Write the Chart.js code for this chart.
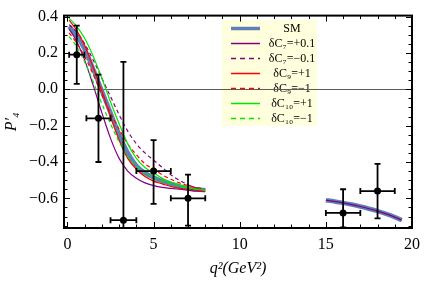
<!DOCTYPE html>
<html><head><meta charset="utf-8">
<script src="https://cdn.jsdelivr.net/npm/chart.js@4"></script>
<style>html,body{margin:0;padding:0;background:#fff}#wrap{width:427px;height:281px}</style>
</head><body><div id="wrap"><canvas id="c"></canvas></div>
<script>
// q^2 grid for the low-q theory curves
const qLow = [0.1,0.5,1,1.5,2,2.5,3,3.5,4,4.5,5,5.5,6,6.5,7,7.5,8];
const smLow    = [0.345,0.30,0.22,0.11,-0.01,-0.13,-0.25,-0.35,-0.42,-0.46,-0.485,-0.505,-0.52,-0.535,-0.545,-0.55,-0.555];
const c7pLow   = [0.33,0.27,0.16,0.02,-0.13,-0.27,-0.38,-0.45,-0.49,-0.515,-0.53,-0.54,-0.545,-0.55,-0.555,-0.56,-0.56];
const c7mLow   = [0.355,0.32,0.25,0.16,0.06,-0.04,-0.14,-0.23,-0.30,-0.35,-0.39,-0.43,-0.47,-0.50,-0.525,-0.545,-0.555];
const c9pLow   = [0.38,0.33,0.24,0.12,-0.01,-0.15,-0.28,-0.38,-0.44,-0.48,-0.505,-0.52,-0.535,-0.545,-0.55,-0.555,-0.56];
const c9mLow   = [0.31,0.26,0.18,0.08,-0.03,-0.13,-0.22,-0.30,-0.36,-0.41,-0.44,-0.47,-0.495,-0.515,-0.53,-0.54,-0.55];
const c10pLow  = [0.39,0.35,0.28,0.18,0.06,-0.07,-0.19,-0.30,-0.38,-0.43,-0.46,-0.49,-0.51,-0.525,-0.54,-0.55,-0.555];
const c10mLow  = [0.29,0.24,0.15,0.04,-0.08,-0.19,-0.29,-0.37,-0.42,-0.46,-0.485,-0.505,-0.52,-0.535,-0.545,-0.55,-0.555];
// high-q region
const qHigh  = [15,15.5,16,16.5,17,17.5,18,18.5,19,19.4];
const smHigh = [-0.61,-0.617,-0.625,-0.634,-0.645,-0.657,-0.67,-0.685,-0.703,-0.72];
// experimental points
const expX   = [0.54, 1.8, 3.25, 5.0, 7.0, 16.0, 18.0];
const expXlo = [0.1, 1.1, 2.5, 4.0, 6.0, 15.0, 17.0];
const expXhi = [0.98, 2.5, 4.0, 6.0, 8.0, 17.0, 19.0];
const expY   = [0.19, -0.16, -0.72, -0.45, -0.60, -0.68, -0.56];
const expYlo = [0.03, -0.40, -1.6, -0.63, -0.75, -0.76, -0.71];
const expYhi = [0.35, 0.08, 0.15, -0.28, -0.47, -0.55, -0.41];
// ticks
const xTicks = [0,5,10,15,20];
const yTicks = [-0.6,-0.4,-0.2,0.0,0.2,0.4];
const legendLabels = ['SM','δC₇=+0.1','δC₇=−0.1','δC₉=+1','δC₉=−1','δC₁₀=+1','δC₁₀=−1'];

const SERIF = '"Liberation Serif","DejaVu Serif",serif';
function pts(xs, ys){ return xs.map((x,i)=>({x:x,y:ys[i]})); }
function withHigh(low){ return pts(qLow, low).concat([{x:11,y:null}], pts(qHigh, smHigh)); }

const styles = [
  {c:'rgb(94,129,181)', w:4.5, d:[]},
  {c:'rgb(128,0,128)', w:1.2, d:[]},
  {c:'rgb(128,0,128)', w:1.2, d:[4,3]},
  {c:'rgb(255,0,0)', w:1.2, d:[]},
  {c:'rgb(255,0,0)', w:1.2, d:[4,3]},
  {c:'rgb(0,230,0)', w:1.2, d:[]},
  {c:'rgb(0,230,0)', w:1.2, d:[4,3]}
];
const series = [withHigh(smLow), withHigh(c7pLow), pts(qLow,c7mLow), pts(qLow,c9pLow), pts(qLow,c9mLow), pts(qLow,c10pLow), pts(qLow,c10mLow)];
const datasets = series.map((d,i)=>({
  label: legendLabels[i], data: d, borderColor: styles[i].c, borderWidth: styles[i].w,
  borderDash: styles[i].d, pointRadius: 0, tension: 0.4, cubicInterpolationMode:'monotone',
  spanGaps:false, fill:false, order: 10-i
}));

const decor = {
  id:'decor',
  beforeDatasetsDraw(chart){
    const ctx = chart.ctx, a = chart.chartArea, ys = chart.scales.y;
    ctx.save();
    // legend box
    ctx.fillStyle = 'rgb(255,255,221)';
    ctx.fillRect(222,20,95,106);
    for(let i=0;i<legendLabels.length;i++){
      const yy = 28.5 + i*15;
      ctx.beginPath();
      ctx.strokeStyle = styles[i].c;
      ctx.lineWidth = i===0 ? 3.5 : 1.5;
      ctx.setLineDash(styles[i].d.length ? [5,4] : []);
      ctx.moveTo(231,yy); ctx.lineTo(260,yy); ctx.stroke();
      ctx.setLineDash([]);
      ctx.fillStyle = '#000';
      ctx.font = '12px '+SERIF;
      ctx.textAlign='center'; ctx.textBaseline='middle';
      ctx.fillText(legendLabels[i], 292, yy+0.5);
    }
    // zero line
    const y0 = Math.round(ys.getPixelForValue(0))+0.5;
    ctx.beginPath(); ctx.strokeStyle='rgb(90,90,90)'; ctx.lineWidth=1;
    ctx.moveTo(a.left,y0); ctx.lineTo(a.right,y0); ctx.stroke();
    ctx.restore();
  },
  afterDatasetsDraw(chart){
    const ctx = chart.ctx, a = chart.chartArea, xs = chart.scales.x, ys = chart.scales.y;
    ctx.save();
    ctx.beginPath(); ctx.rect(a.left,a.top,a.right-a.left,a.bottom-a.top); ctx.clip();
    ctx.strokeStyle='#000'; ctx.fillStyle='#000'; ctx.lineWidth=1.8;
    for(let i=0;i<expX.length;i++){
      const px = xs.getPixelForValue(expX[i]), py = ys.getPixelForValue(expY[i]);
      const xl = xs.getPixelForValue(expXlo[i]), xh = xs.getPixelForValue(expXhi[i]);
      const yl = ys.getPixelForValue(expYlo[i]), yh = ys.getPixelForValue(expYhi[i]);
      ctx.beginPath();
      ctx.moveTo(xl,py); ctx.lineTo(xh,py);
      ctx.moveTo(xl,py-3); ctx.lineTo(xl,py+3);
      ctx.moveTo(xh,py-3); ctx.lineTo(xh,py+3);
      ctx.moveTo(px,yl); ctx.lineTo(px,yh);
      ctx.moveTo(px-3,yl); ctx.lineTo(px+3,yl);
      ctx.moveTo(px-3,yh); ctx.lineTo(px+3,yh);
      ctx.stroke();
      ctx.beginPath(); ctx.arc(px,py,3.5,0,Math.PI*2); ctx.fill();
    }
    ctx.restore();
    // frame and ticks
    ctx.save();
    ctx.strokeStyle='#000';
    ctx.lineWidth=1;
    ctx.beginPath();
    for(let v=0; v<=20; v+=1){
      const p = Math.round(xs.getPixelForValue(v))+0.5;
      const L = (v%5===0)?6:3.5;
      ctx.moveTo(p,a.bottom); ctx.lineTo(p,a.bottom-L);
      ctx.moveTo(p,a.top); ctx.lineTo(p,a.top+L);
    }
    for(let k=-15; k<=8; k++){
      const v = k*0.05;
      const p = Math.round(ys.getPixelForValue(v))+0.5;
      const L = (k%4===0)?6:3.5;
      ctx.moveTo(a.left,p); ctx.lineTo(a.left+L,p);
      ctx.moveTo(a.right,p); ctx.lineTo(a.right-L,p);
    }
    ctx.stroke();
    ctx.lineWidth=2;
    ctx.strokeRect(a.left,a.top,a.right-a.left,a.bottom-a.top);
    ctx.restore();
  }
};

new Chart(document.getElementById('c'),{
  type:'line',
  data:{datasets},
  options:{
    responsive:true, maintainAspectRatio:false, animation:false,
    layout:{padding:{left:0,right:9,top:10,bottom:0}},
    plugins:{legend:{display:false},tooltip:{enabled:false}},
    scales:{
      x:{type:'linear',min:-0.2,max:20.0,
        afterBuildTicks(s){ s.ticks = xTicks.map(v=>({value:v})); },
        afterFit(s){ s.height = 53; },
        grid:{display:false,drawTicks:false}, border:{display:false},
        ticks:{color:'#000',padding:7,maxRotation:0,autoSkip:false,font:{family:SERIF,size:16}},
        title:{display:true,text:'q²(GeV²)',color:'#000',padding:{top:0,bottom:3},font:{family:SERIF,size:16,style:'italic'}}
      },
      y:{type:'linear',min:-0.763,max:0.405,
        afterBuildTicks(s){ s.ticks = yTicks.map(v=>({value:v})); },
        afterFit(s){ s.width = 64; },
        grid:{display:false,drawTicks:false}, border:{display:false},
        ticks:{color:'#000',padding:6,autoSkip:false,font:{family:SERIF,size:16},
          callback(v){ const s = Math.abs(v).toFixed(1); return (v< -1e-9 ? '−' : '') + s; }},
        title:{display:true,text:'P′₄',color:'#000',padding:{top:2,bottom:0},font:{family:SERIF,size:16,style:'italic'}}
      }
    }
  },
  plugins:[decor]
});
</script></body></html>
